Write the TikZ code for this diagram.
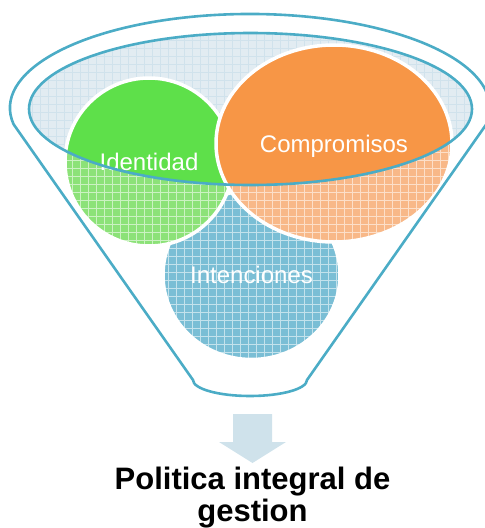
\documentclass[tikz,border=0pt]{standalone}
\usepackage{fontspec}
\setmainfont{Liberation Sans}
\usepackage{tikz}
\usetikzlibrary{shapes,patterns}
\definecolor{funnelblue}{RGB}{75,172,198}
\definecolor{rimfill}{RGB}{226,236,242}
\definecolor{rimgrid}{RGB}{208,226,236}
\definecolor{idgreen}{RGB}{94,224,74}
\definecolor{idgreenlight}{RGB}{140,226,120}
\definecolor{comporange}{RGB}{247,150,70}
\definecolor{comporangelight}{RGB}{248,184,136}
\definecolor{intblue}{RGB}{122,190,213}
\definecolor{arrowblue}{RGB}{207,226,235}

\pgfdeclarepatternformonly{finegrid}{\pgfqpoint{-1pt}{-1pt}}{\pgfqpoint{9pt}{9pt}}{\pgfqpoint{8pt}{8pt}}{%
  \pgfsetlinewidth{0.5pt}%
  \pgfpathmoveto{\pgfqpoint{0pt}{0pt}}\pgfpathlineto{\pgfqpoint{0pt}{8pt}}%
  \pgfpathmoveto{\pgfqpoint{0pt}{0pt}}\pgfpathlineto{\pgfqpoint{8pt}{0pt}}%
  \pgfusepath{stroke}}

\tikzset{
  bubble/.style={ellipse, draw=white, line width=3.5pt, inner sep=0pt, text depth=0pt,
    text=white, font=\fontsize{24}{28}\selectfont, pattern=finegrid},
  funnelline/.style={draw=funnelblue, line width=2.6pt}
}

\begin{document}
\begin{tikzpicture}[x=1pt, y=-1pt]
    \useasboundingbox (0,0) rectangle (485,528);
    \clip (0,0) rectangle (485,528);

    \node[ellipse, minimum width=443pt, minimum height=152pt, inner sep=0pt,
        preaction={fill=rimfill}, pattern=finegrid, pattern color=rimgrid] (rim) at (250.5,109) {};

    \node[bubble, minimum width=177pt, minimum height=169pt,
        preaction={fill=intblue}, pattern color=white!55!intblue] (intn) at (251.5,275) {Intenciones};
    \node[bubble, minimum width=168pt, minimum height=168pt,
        preaction={fill=idgreenlight}, pattern color=white!55!idgreenlight,
        path picture={\fill[idgreen] (rim.center) ellipse [x radius=221.5pt, y radius=76pt];}] (ident) at (149,162) {Identidad};
    \node[bubble, minimum width=236pt, minimum height=197pt,
        preaction={fill=comporangelight}, pattern color=white!55!comporangelight,
        path picture={\fill[comporange] (rim.center) ellipse [x radius=221.5pt, y radius=76pt];}] (comp) at (334,143.5) {Compromisos};

    \draw[funnelline] (rim.center) ellipse [x radius=221.5pt, y radius=76pt];
    \draw[funnelline] (13.6,124.3) arc [start angle=170, end angle=370, x radius=240, y radius=94]
        -- (307,380) arc [start angle=0, end angle=180, x radius=57, y radius=16] -- cycle;

    \fill[arrowblue] (233,414) -- (272,414) -- (272,442) -- (286,442) -- (252.5,463)
        -- (219,442) -- (233,442) -- cycle;

    \node[font=\fontsize{31}{32}\selectfont\bfseries, align=center, inner sep=0pt, anchor=north]
        (policy) at (252.5,466.5) {Politica integral de\\gestion};
\end{tikzpicture}
\end{document}
